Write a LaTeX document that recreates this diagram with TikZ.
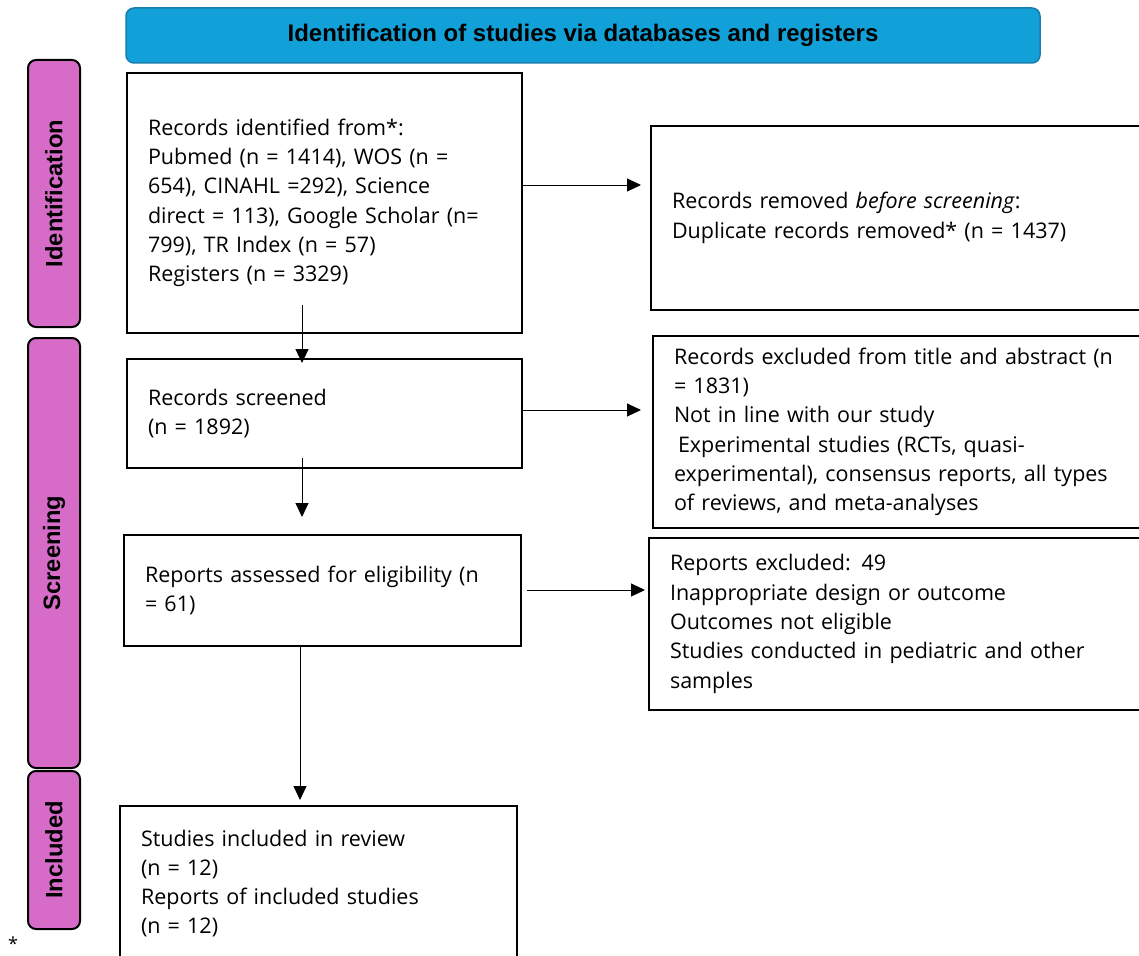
\documentclass[tikz,border=0pt]{standalone}
\usepackage{fontspec}
\setmainfont{Open Sans}
\newfontfamily\arialb{Liberation Sans}[Scale=1.0]
\usetikzlibrary{arrows.meta}
\definecolor{hdrblue}{RGB}{17,160,215}
\definecolor{hdredge}{RGB}{25,125,175}
\definecolor{phasecol}{RGB}{214,108,200}
\begin{document}
\begin{tikzpicture}[x=1pt,y=-1pt,
  box/.style={draw,line width=2pt,fill=white,anchor=north west,inner xsep=21pt,inner ysep=0pt,
    align=left,font=\fontsize{21.5}{29.3}\selectfont},
  arr/.style={-{Triangle[length=14pt,width=13pt]},line width=1pt},
  phasebox/.style={draw,line width=2pt,fill=phasecol,rounded corners=8pt,rotate=90,
    minimum height=52pt,inner sep=0pt,font=\arialb\bfseries\fontsize{23.7}{26}\selectfont},
  hdr/.style={draw=hdredge,line width=1.5pt,fill=hdrblue,rounded corners=8pt,
    minimum width=914pt,minimum height=55pt,inner sep=0pt,font=\arialb\bfseries\fontsize{24}{26}\selectfont}]
\useasboundingbox (0,0) rectangle (1139,955);
\clip (0,0) rectangle (1139,955);

\node[hdr] (title) at (583,35.5) {Identification of studies via databases and registers};

\node[phasebox,minimum width=267pt] (pid) at (54,193.5) {Identification};
\node[phasebox,minimum width=430pt] (psc) at (54,553) {Screening};
\node[phasebox,minimum width=158pt] (pin) at (54,850) {Included};

\node[box,text width=353pt,minimum height=260pt] (b1) at (126,72) {Records identified from*:\\
Pubmed (n = 1414), WOS (n =\\
654), CINAHL =292), Science\\
direct = 113), Google Scholar (n=\\
799), TR Index (n = 57)\\
Registers (n = 3329)};

\node[box,text width=458pt,minimum height=184pt] (rem) at (650,125) {Records removed \textit{before screening}:\\
Duplicate records removed* (n = 1437)};

\node[box,text width=353pt,minimum height=109pt] (scr) at (126,358) {Records screened\\
(n = 1892)};

\node[box,text width=456pt,minimum height=192pt] (exc) at (652,335) {Records excluded from title and abstract (n\\
= 1831)\\
Not in line with our study\\
\hspace{4pt}Experimental studies (RCTs, quasi-\\
experimental), consensus reports, all types\\
of reviews, and meta-analyses};

\node[box,text width=355pt,minimum height=111pt] (ass) at (123,534) {Reports assessed for eligibility (n\\
= 61)};

\node[box,text width=460pt,minimum height=172pt] (rep) at (648,537) {Reports excluded: 49\\
Inappropriate design or outcome\\
Outcomes not eligible\\
Studies conducted in pediatric and other\\
samples};

\node[box,text width=355pt,minimum height=155pt] (inc) at (119,805) {Studies included in review\\
(n = 12)\\
Reports of included studies\\
(n = 12)};

\node[anchor=center,inner sep=0pt,font=\fontsize{18}{18}\selectfont] (ast) at (13,944) {*};

\coordinate (v1) at (302,305);
\coordinate (v2) at (302,458);
\coordinate (h1) at (522,185);
\coordinate (h2) at (522,410);
\coordinate (h3) at (527,590);

\draw[arr,shorten >=-5pt] (v1) -- (v1 |- scr.north);
\draw[arr,shorten >=17pt] (v2) -- (v2 |- ass.north);
\draw[arr,shorten >=5pt] (ass.south -| 300,0) -- (inc.north -| 300,0);
\draw[arr,shorten >=9pt] (h1) -- (h1 -| rem.west);
\draw[arr,shorten >=11pt] (h2) -- (h2 -| exc.west);
\draw[arr,shorten >=3pt] (h3) -- (h3 -| rep.west);
\end{tikzpicture}
\end{document}
